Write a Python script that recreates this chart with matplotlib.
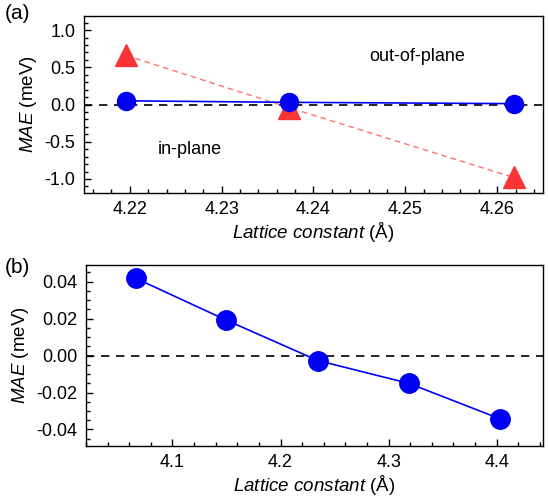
import numpy as np
import matplotlib.pyplot as plt
from matplotlib.ticker import MultipleLocator

plt.rcParams['font.family'] = ['Liberation Sans', 'DejaVu Sans']
plt.rcParams['mathtext.fontset'] = 'custom'
plt.rcParams['mathtext.rm'] = 'Liberation Sans'
plt.rcParams['mathtext.it'] = 'Liberation Sans:italic'

# panel (a): small lattice-constant range
lat_a = [4.2196, 4.2373, 4.2618]
mae_a_circ = [0.05, 0.03, 0.012]
mae_a_tri = [0.66, -0.04, -0.98]

# panel (b)
lat_b = [4.0660, 4.1500, 4.2345, 4.3190, 4.4030]
mae_b = [0.0418, 0.0191, -0.0027, -0.0151, -0.0342]

BLUE = '#0000f5'
RED = '#fa3535'

fig = plt.figure(figsize=(5.48, 4.99), dpi=100)
ax1 = fig.add_axes([0.153, 0.613, 0.838, 0.355])
ax2 = fig.add_axes([0.157, 0.106, 0.834, 0.363])


def style_axes(ax):
    ax.tick_params(which='both', direction='in', top=False, right=False, labelsize=13)
    ax.tick_params(which='major', length=5, width=1)
    ax.tick_params(which='minor', length=3, width=1)
    ax.tick_params(axis='x', pad=6)
    ax.tick_params(axis='y', pad=6)
    for s in ax.spines.values():
        s.set_linewidth(1)
    ax.set_xlabel(r'$\mathit{Lattice\ constant}$ (Å)', fontsize=13.5, labelpad=1)
    ax.set_ylabel(r'$\mathit{MAE}$ (meV)', fontsize=13.5, labelpad=4)


# --- (a)
ax1.axhline(0, color='black', linestyle=(0, (5, 4)), linewidth=1.2, zorder=1)
ax1.plot(lat_a, mae_a_tri, color='#ff7070', linestyle=(0, (4, 3)), linewidth=1, zorder=2)
ax1.plot(lat_a, mae_a_tri, '^', color=RED, markersize=16, zorder=3)
ax1.plot(lat_a, mae_a_circ, 'o-', color=BLUE, markersize=13, linewidth=1.2, zorder=4)
ax1.set_xlim(4.215, 4.265)
ax1.set_ylim(-1.19, 1.19)
ax1.xaxis.set_major_locator(MultipleLocator(0.01))
ax1.xaxis.set_minor_locator(MultipleLocator(0.002))
ax1.yaxis.set_major_locator(MultipleLocator(0.5))
ax1.yaxis.set_minor_locator(MultipleLocator(0.1))
ax1.yaxis.set_major_formatter(plt.FormatStrFormatter('%.1f'))
style_axes(ax1)
ax1.text(0.725, 0.77, 'out-of-plane', transform=ax1.transAxes, fontsize=13, ha='center', va='center')
ax1.text(0.23, 0.245, 'in-plane', transform=ax1.transAxes, fontsize=13, ha='center', va='center')

# --- (b)
ax2.axhline(0, color='black', linestyle=(0, (5, 4)), linewidth=1.2, zorder=1)
ax2.plot(lat_b, mae_b, 'o-', color=BLUE, markersize=14, linewidth=1.2, zorder=3)
ax2.set_xlim(4.02, 4.443)
ax2.set_ylim(-0.049, 0.049)
ax2.xaxis.set_major_locator(MultipleLocator(0.1))
ax2.xaxis.set_minor_locator(MultipleLocator(0.02))
ax2.yaxis.set_major_locator(MultipleLocator(0.02))
ax2.yaxis.set_minor_locator(MultipleLocator(0.005))
ax2.yaxis.set_major_formatter(plt.FormatStrFormatter('%.2f'))
style_axes(ax2)

fig.text(0.008, 0.972, '(a)', fontsize=15, va='center')
fig.text(0.008, 0.463, '(b)', fontsize=15, va='center')

fig.savefig('out.png', dpi=100)
